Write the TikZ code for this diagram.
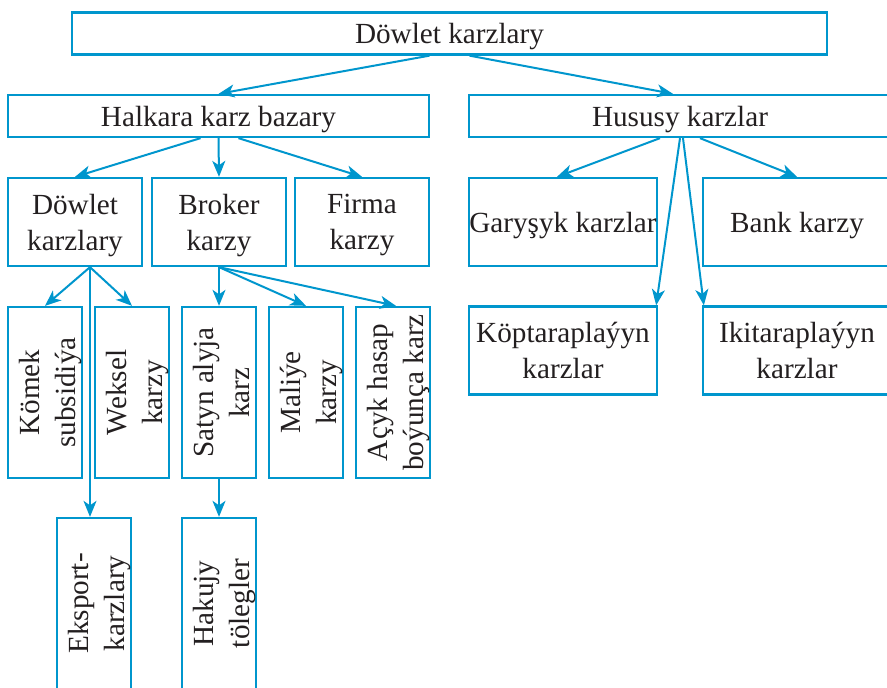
\documentclass[tikz,border=0pt]{standalone}
\usepackage{fontspec}
\setmainfont{Liberation Serif}
\usepackage{graphicx}
\usetikzlibrary{arrows.meta}
\definecolor{kblue}{RGB}{0,150,205}
\definecolor{ktext}{RGB}{35,31,32}
\newcommand{\vlab}[1]{\rotatebox{90}{\begin{tabular}{@{}c@{}}#1\end{tabular}}\kern-10pt}
\begin{document}
\begin{tikzpicture}[x=1pt, y=-1pt,
font=\fontsize{29.2}{36}\selectfont, text=ktext,
box/.style ={draw=kblue, line width=2.3pt, inner sep=0pt, align=center},
bar/.style ={box, text depth=0pt, minimum height=42pt},
cell/.style ={box, text depth=0pt, minimum width=134pt, minimum height=88pt},
rcell/.style ={box, text depth=0pt, minimum width=188pt, minimum height=88pt},
tall/.style ={box, minimum width=74pt, minimum height=171pt},
arr/.style ={draw=kblue, line width=2pt, -{Stealth[length=16pt,width=13pt,inset=4.5pt]}}]
\useasboundingbox (0,0) rectangle (887,688);
\node[bar, minimum width=755pt] (top) at (449.5,33.5) {Döwlet karzlary};
\node[bar, minimum width=421pt] (hal) at (218.5,116) {Halkara karz bazary};
\node[bar, minimum width=422pt] (hus) at (680,116) {Hususy karzlar};
\node[cell] (dk) at (75,222) {Döwlet\\karzlary};
\node[cell] (br) at (219,222) {Broker\\karzy};
\node[cell] (fi) at (362,222) {Firma\\karzy};
\node[rcell] (gar) at (563,222) {Garyşyk karzlar};
\node[rcell] (bank) at (797,222) {Bank karzy};
\node[rcell] (kop) at (563,350.5) {Köptaraplaýyn\\karzlar};
\node[rcell] (iki) at (797,350.5) {Ikitaraplaýyn\\karzlar};
\node[tall] (kom) at (45,392.5) {\vlab{Kömek\\subsidiýa}};
\node[tall] (wek) at (132,392.5) {\vlab{Weksel\\karzy}};
\node[tall] (sat) at (219,392.5) {\vlab{Satyn alyja\\karz}};
\node[tall] (mal) at (306,392.5) {\vlab{Maliýe\\karzy}};
\node[tall] (acy) at (393,392.5) {\vlab{Açyk hasap\\boýunça karz}};
\node[tall] (eks) at (94,603.5) {\vlab{Eksport-\\karzlary}};
\node[tall] (hak) at (219,603.5) {\vlab{Hakujy\\tölegler}};
\draw[arr] ([xshift=-20pt]top.south) -- (hal.north);
\draw[arr] ([xshift=20pt]top.south) -- ([xshift=-7pt]hus.north);
\draw[arr] ([xshift=-18pt]hal.south) -- (dk.north);
\draw[arr] (hal.south) -- (br.north);
\draw[arr] ([xshift=20pt]hal.south) -- (fi.north);
\draw[arr] ([xshift=15pt]dk.south) -- (kom.north);
\draw[arr] ([xshift=15pt]dk.south) -- (wek.north);
\draw[arr] ([xshift=15pt]dk.south) -- ([xshift=-4pt]eks.north);
\draw[arr] (br.south) -- (sat.north);
\draw[arr] (br.south) -- (mal.north);
\draw[arr] (br.south) -- ([xshift=3pt]acy.north);
\draw[arr] (sat.south) -- (hak.north);
\draw[arr] ([xshift=-20pt]hus.south) -- ([xshift=-6pt]gar.north);
\draw[arr] (hus.south) -- ([xshift=-2pt]kop.north east);
\draw[arr] ([xshift=3pt]hus.south) -- ([xshift=2pt]iki.north west);
\draw[arr] ([xshift=20pt]hus.south) -- (bank.north);
\end{tikzpicture}
\end{document}
